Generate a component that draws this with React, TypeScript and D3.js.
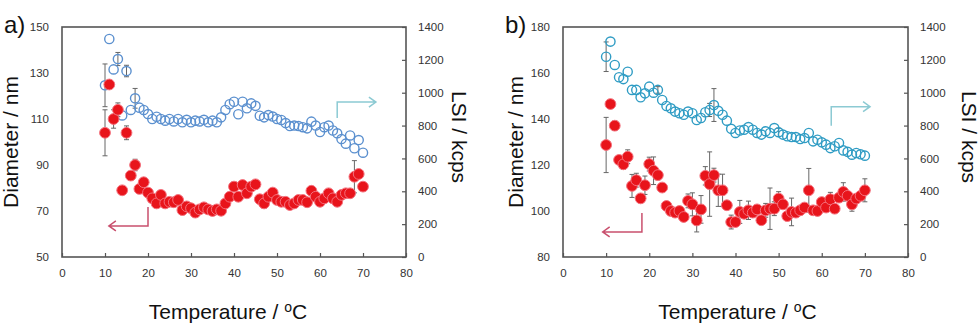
import React, { useEffect, useRef } from "react";
import * as d3 from "d3";

// temperature steps (°C) used by both panels
const temps = d3.range(10, 71);

// panel a) — hydrodynamic diameter (nm, left axis)
const diamA = [
  104, 125, 110, 114, 79, 104, 85.4, 90, 79.6, 82.5, 78, 75.5, 73.3, 77, 73.3,
  74, 73.8, 74.8, 70.4, 72, 71.2, 69.3, 70.7, 71.6, 70.7, 70, 70.7, 70.1, 73.3,
  76.2, 80.6, 76.2, 81.3, 77.7, 80.6, 81.6, 75.1, 73.3, 76.2, 78, 74.8, 74, 74,
  72.6, 73.3, 74.8, 74.8, 73.8, 78.8, 76.2, 74, 75.5, 77.7, 75.5, 74, 77, 77.7,
  77.7, 84.9, 86.1, 80.6,
];
const diamErrA = [
  10, 1, 4, 3, 1, 3, 1, 2.5, 1, 1, 1, 1, 1, 1.5, 1, 1, 1, 1, 1, 1, 1.5, 1, 1, 1,
  1, 1, 1, 1, 1, 1, 2, 1, 1.5, 1, 1, 1, 1, 2, 1, 1, 1, 1, 1, 1, 1, 1, 1, 1, 1.5,
  1, 1, 1, 1.5, 1, 1, 1, 1, 1, 7, 1, 1,
];
// panel a) — light scattering intensity (kcps, right axis)
const lsiA = [
  1045, 1327, 1142, 1205, 862, 1132, 895, 966, 909, 895, 870, 840, 854, 840,
  830, 840, 825, 840, 820, 835, 820, 830, 825, 835, 820, 830, 820, 850, 895,
  930, 945, 869, 945, 905, 935, 920, 860, 850, 864, 855, 840, 834, 815, 797,
  800, 797, 790, 783, 824, 800, 761, 790, 800, 770, 753, 718, 690, 740, 662,
  712, 635,
];
const lsiErrA = [
  130, 0, 0, 40, 0, 35, 0, 60, 0, 0, 0, 0, 0, 0, 0, 0, 0, 0, 0, 0, 0, 0, 0, 0,
  0, 0, 0, 0, 0, 0, 0, 0, 0, 0, 0, 0, 0, 0, 0, 0, 0, 0, 0, 0, 0, 0, 0, 0, 0, 0,
  0, 0, 0, 0, 0, 0, 0, 0, 0, 0, 0,
];

// panel b)
const diamB = [
  128.7, 146.5, 137.1, 122.2, 120.3, 123.6, 110.9, 113.4, 105.5, 111.2, 120.4,
  117.5, 115.6, 110.2, 102.2, 100, 99.3, 100, 97.4, 104.4, 102.9, 95.9, 100.7,
  115.3, 111.7, 115.6, 109, 109, 102.5, 95.2, 95.2, 99.6, 98.8, 100.3, 99.3,
  100.7, 96, 100.3, 101, 101, 105.4, 102.9, 97.8, 99.6, 99.3, 100.3, 101.5, 109,
  100.3, 100, 103.9, 101.5, 105.1, 101, 105.8, 108.3, 106.6, 102.9, 105.4,
  106.6, 109,
];
const diamErrB = [
  12, 0.5, 2, 1, 2, 3, 5, 3, 1, 4, 3, 6, 2, 1, 1, 1, 1, 1, 1, 3, 5, 5, 6, 4,
  14, 3, 7, 7, 1, 3, 1, 5, 1, 4, 1, 1, 1, 3, 9, 3, 3, 1, 1, 6, 1, 1, 1, 9.5, 1,
  1, 1, 1, 3, 1, 1, 4, 1, 3, 1, 1, 5,
];
const lsiB = [
  1219, 1311, 1169, 1094, 1083, 1128, 1017, 1017, 972, 996, 1037, 1000, 1017,
  956, 919, 905, 885, 875, 866, 885, 875, 834, 846, 881, 895, 925, 890, 866,
  830, 780, 755, 770, 775, 791, 775, 755, 745, 765, 755, 785, 759, 745, 735,
  730, 730, 718, 724, 755, 704, 714, 698, 684, 663, 674, 694, 649, 640, 623,
  633, 625, 617,
];
const lsiErrB = [
  90, 0, 0, 0, 0, 0, 0, 0, 0, 0, 0, 0, 20, 0, 0, 0, 0, 0, 0, 0, 0, 0, 0, 0,
  40, 100, 0, 0, 0, 0, 0, 0, 0, 0, 0, 0, 0, 0, 0, 0, 25, 0, 0, 0, 0, 0, 0, 0,
  0, 0, 0, 0, 0, 0, 0, 0, 0, 0, 0, 0, 0,
];

const tempTicks = [0, 10, 20, 30, 40, 50, 60, 70, 80];
const lsiTicks = [0, 200, 400, 600, 800, 1000, 1200, 1400];
const diamTicksA = [50, 70, 90, 110, 130, 150];
const diamTicksB = [80, 100, 120, 140, 160, 180];

// arrow annotations: corner temperature, start value, end value, tip temperature
const panels = [
  {
    label: "a)",
    left: 62,
    right: 406,
    diamDomain: [50, 150],
    diamTicks: diamTicksA,
    diam: diamA,
    diamErr: diamErrA,
    lsi: lsiA,
    lsiErr: lsiErrA,
    blue: "#5b90cf",
    yTitleGap: 44,
    rTitleGap: 46,
    xTitleShift: -6,
    redArrow: { t: 20, from: 71.7, to: 63.5, tip: 10.9 },
    blueArrow: { t: 64, from: 846, to: 943, tip: 73 },
  },
  {
    label: "b)",
    left: 563,
    right: 908,
    diamDomain: [80, 180],
    diamTicks: diamTicksB,
    diam: diamB,
    diamErr: diamErrB,
    lsi: lsiB,
    lsiErr: lsiErrB,
    blue: "#2f9cc4",
    yTitleGap: 40,
    rTitleGap: 54,
    xTitleShift: 2,
    redArrow: { t: 18.3, from: 99.1, to: 90.9, tip: 9.2 },
    blueArrow: { t: 62.2, from: 799, to: 915, tip: 71.2 },
  },
];

const App = () => {
  const svgRef = useRef(null);

  useEffect(() => {
    const width = 980;
    const height = 329;
    const top = 27;
    const bottom = 257;
    const font = "'Liberation Sans', Arial, sans-serif";

    const svg = d3.select(svgRef.current);
    svg.selectAll("*").remove();
    svg.attr("width", width).attr("height", height);

    // vertical error bar with caps
    const errBar = (sel, cx, y0, y1) => {
      sel.append("line").attr("x1", cx).attr("x2", cx).attr("y1", y0).attr("y2", y1)
        .attr("stroke", "#666").attr("stroke-width", 1);
      [y0, y1].forEach((yy) =>
        sel.append("line").attr("x1", cx - 2.5).attr("x2", cx + 2.5).attr("y1", yy).attr("y2", yy)
          .attr("stroke", "#666").attr("stroke-width", 1)
      );
    };

    panels.forEach((p) => {
      const g = svg.append("g");

      const x = d3.scaleLinear().domain([0, 80]).range([p.left, p.right]);
      const yL = d3.scaleLinear().domain(p.diamDomain).range([bottom, top]);
      const yR = d3.scaleLinear().domain([0, 1400]).range([bottom, top]);

      // frame
      g.append("rect")
        .attr("x", p.left)
        .attr("y", top)
        .attr("width", p.right - p.left)
        .attr("height", bottom - top)
        .attr("fill", "none")
        .attr("stroke", "#555")
        .attr("stroke-width", 1.6);

      // bottom axis
      const xAxis = g
        .append("g")
        .attr("transform", `translate(0,${bottom})`)
        .call(d3.axisBottom(x).tickValues(tempTicks).tickSizeInner(-4).tickSizeOuter(0).tickPadding(12));
      // left axis
      const lAxis = g
        .append("g")
        .attr("transform", `translate(${p.left},0)`)
        .call(d3.axisLeft(yL).tickValues(p.diamTicks).tickSizeInner(0).tickSizeOuter(0).tickPadding(13));
      // right axis
      const rAxis = g
        .append("g")
        .attr("transform", `translate(${p.right},0)`)
        .call(
          d3.axisRight(yR).tickValues(lsiTicks).tickFormat(d3.format("d"))
            .tickSizeInner(-4).tickSizeOuter(0).tickPadding(12)
        );

      [xAxis, lAxis, rAxis].forEach((a) => {
        a.select(".domain").remove();
        a.selectAll("line").attr("stroke", "#555").attr("stroke-width", 1.2);
        a.selectAll("text")
          .attr("fill", "#333")
          .style("font-family", font)
          .style("font-size", "11.5px");
      });

      // LSI error bars + open circles
      const lsiG = g.append("g");
      temps.forEach((t, i) => {
        if (p.lsiErr[i] > 0) {
          errBar(lsiG, x(t), yR(p.lsi[i] - p.lsiErr[i]), yR(p.lsi[i] + p.lsiErr[i]));
        }
      });
      lsiG.selectAll("circle")
        .data(temps)
        .join("circle")
        .attr("cx", (t) => x(t))
        .attr("cy", (t, i) => yR(p.lsi[i]))
        .attr("r", 4.6)
        .attr("fill", "none")
        .attr("stroke", p.blue)
        .attr("stroke-width", 1.4);

      // diameter error bars + filled circles
      const dG = g.append("g");
      temps.forEach((t, i) => {
        errBar(dG, x(t), yL(p.diam[i] - p.diamErr[i]), yL(p.diam[i] + p.diamErr[i]));
      });
      dG.selectAll("circle")
        .data(temps)
        .join("circle")
        .attr("cx", (t) => x(t))
        .attr("cy", (t, i) => yL(p.diam[i]))
        .attr("r", 5.4)
        .attr("fill", "#e8141b")
        .attr("stroke", "#f4707c")
        .attr("stroke-width", 1);

      // arrows
      const ra = p.redArrow;
      const redPath = d3.path();
      redPath.moveTo(x(ra.t), yL(ra.from));
      redPath.lineTo(x(ra.t), yL(ra.to));
      redPath.lineTo(x(ra.tip), yL(ra.to));
      redPath.moveTo(x(ra.tip) + 7, yL(ra.to) - 5);
      redPath.lineTo(x(ra.tip), yL(ra.to));
      redPath.lineTo(x(ra.tip) + 7, yL(ra.to) + 5);
      g.append("path").attr("d", redPath.toString()).attr("fill", "none")
        .attr("stroke", "#c9506e").attr("stroke-width", 1.5);

      const ba = p.blueArrow;
      const bluePath = d3.path();
      bluePath.moveTo(x(ba.t), yR(ba.from));
      bluePath.lineTo(x(ba.t), yR(ba.to));
      bluePath.lineTo(x(ba.tip), yR(ba.to));
      bluePath.moveTo(x(ba.tip) - 7, yR(ba.to) - 5);
      bluePath.lineTo(x(ba.tip), yR(ba.to));
      bluePath.lineTo(x(ba.tip) - 7, yR(ba.to) + 5);
      g.append("path").attr("d", bluePath.toString()).attr("fill", "none")
        .attr("stroke", "#8ccad3").attr("stroke-width", 1.5);

      // titles
      const midY = (top + bottom) / 2;
      g.append("text")
        .attr("transform", `translate(${p.left - p.yTitleGap},${midY}) rotate(-90)`)
        .attr("text-anchor", "middle")
        .style("font-family", font)
        .style("font-size", "21px")
        .attr("fill", "#111")
        .text("Diameter  / nm");
      g.append("text")
        .attr("transform", `translate(${p.right + p.rTitleGap},${midY - 5}) rotate(90)`)
        .attr("text-anchor", "middle")
        .style("font-family", font)
        .style("font-size", "21px")
        .attr("fill", "#111")
        .text("LSI / kcps");
      const xt = g.append("text")
        .attr("x", (p.left + p.right) / 2 + p.xTitleShift)
        .attr("y", 319)
        .attr("text-anchor", "middle")
        .style("font-family", font)
        .style("font-size", "21px")
        .attr("fill", "#111");
      xt.append("tspan").text("Temperature / ");
      xt.append("tspan").attr("dy", -7).style("font-size", "14px").text("o");
      xt.append("tspan").attr("dy", 7).text("C");

      g.append("text")
        .attr("x", p.left - 58)
        .attr("y", 33)
        .style("font-family", font)
        .style("font-size", "24px")
        .attr("fill", "#111")
        .text(p.label);
    });
  }, []);

  return (
    <svg ref={svgRef} style={{ position: "absolute", left: 0, top: 0, background: "white" }}></svg>
  );
};

export default App;
